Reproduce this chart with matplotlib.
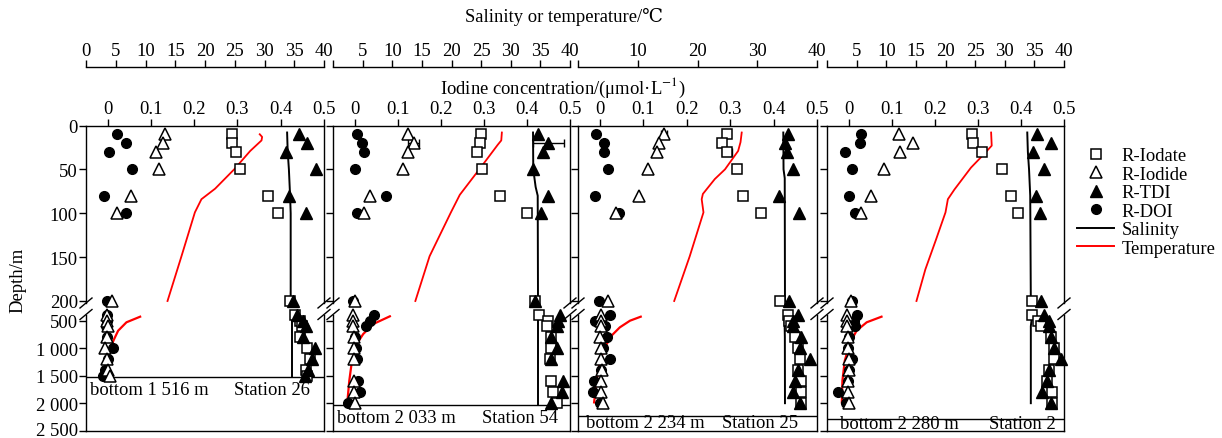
import matplotlib
matplotlib.use("Agg")
import matplotlib.pyplot as plt
import matplotlib.transforms as mtransforms
from matplotlib.lines import Line2D

plt.rcParams['font.family'] = ['Liberation Serif', 'DejaVu Serif']
plt.rcParams['mathtext.fontset'] = 'stix'
plt.rcParams['font.size'] = 13.4
plt.rcParams['axes.linewidth'] = 1.0

W, H = 1222, 439

# ---------------- data ----------------
stations = ["Station 26", "Station 54", "Station 25", "Station 2"]
bottoms = [1516, 2033, 2234, 2280]
bottom_txt = ["bottom 1 516 m", "bottom 2 033 m", "bottom 2 234 m", "bottom 2 280 m"]

depth_up = [10, 20, 30, 50, 80, 100, 200]
iodate_up = [
    [0.288, 0.288, 0.297, 0.305, 0.371, 0.394, 0.422],
    [0.293, 0.290, 0.285, 0.295, 0.338, 0.400, 0.419],
    [0.292, 0.282, 0.293, 0.315, 0.330, 0.372, 0.415],
    [0.287, 0.288, 0.310, 0.357, 0.377, 0.394, 0.425],
]
iodide_up = [
    [0.132, 0.128, 0.112, 0.118, 0.054, 0.021, 0.009],
    [0.124, 0.137, 0.123, 0.113, 0.035, 0.023, 0.000],
    [0.148, 0.137, 0.131, 0.110, 0.091, 0.037, 0.018],
    [0.117, 0.150, 0.119, 0.082, 0.053, 0.029, 0.006],
]
tdi_up = [
    [0.442, 0.460, 0.413, 0.481, 0.418, 0.459, 0.428],
    [0.425, 0.450, 0.437, 0.415, 0.449, 0.433, 0.419],
    [0.434, 0.427, 0.432, 0.444, 0.412, 0.458, 0.436],
    [0.438, 0.470, 0.427, 0.453, 0.435, 0.444, 0.447],
]
doi_up = [
    [0.021, 0.042, 0.002, 0.057, -0.008, 0.042, -0.002],
    [0.005, 0.018, 0.023, 0.002, 0.072, 0.005, -0.004],
    [-0.008, 0.010, 0.010, 0.018, -0.012, 0.045, -0.002],
    [0.028, 0.027, -0.008, 0.009, 0.000, 0.016, 0.008],
]

depth_low = [
    [400, 500, 600, 800, 1000, 1200, 1400, 1500],
    [400, 500, 600, 800, 1000, 1200, 1600, 1800, 2000],
    [400, 500, 600, 800, 1000, 1200, 1400, 1600, 1800, 2000],
    [400, 500, 600, 800, 1000, 1200, 1400, 1600, 1800, 2000],
]
iodate_low = [
    [0.433, 0.445, 0.449, 0.445, 0.460, 0.468, 0.458, 0.460],
    [0.429, 0.450, 0.446, 0.457, 0.457, 0.453, 0.457, 0.461, 0.469],
    [0.434, 0.436, 0.440, 0.449, 0.457, 0.461, 0.457, 0.464, 0.464, 0.464],
    [0.426, 0.440, 0.446, 0.469, 0.477, 0.477, 0.465, 0.461, 0.473, 0.473],
]
iodide_low = [
    [-0.001, -0.002, 0.000, -0.002, -0.006, -0.002, 0.000, 0.006],
    [-0.003, -0.003, -0.003, -0.002, -0.002, -0.002, -0.001, -0.002, 0.000],
    [0.002, 0.004, 0.004, 0.001, 0.004, 0.004, 0.006, 0.004, 0.004, 0.008],
    [-0.004, -0.003, -0.004, -0.001, -0.002, 0.000, 0.000, -0.002, -0.002, 0.002],
]
tdi_low = [
    [0.437, 0.452, 0.458, 0.451, 0.479, 0.472, 0.463, 0.456],
    [0.477, 0.473, 0.470, 0.455, 0.470, 0.457, 0.483, 0.481, 0.457],
    [0.457, 0.445, 0.445, 0.464, 0.461, 0.484, 0.457, 0.449, 0.445, 0.461],
    [0.454, 0.465, 0.465, 0.469, 0.477, 0.492, 0.465, 0.461, 0.450, 0.469],
]
doi_low = [
    [-0.002, -0.002, -0.003, -0.002, 0.013, 0.001, -0.005, -0.010],
    [0.044, 0.035, 0.026, 0.001, 0.004, 0.005, 0.008, 0.012, -0.015],
    [0.024, -0.011, 0.012, 0.017, 0.008, 0.024, 0.004, -0.013, -0.016, 0.001],
    [0.019, 0.012, 0.015, 0.000, -0.001, 0.007, 0.002, -0.002, -0.024, -0.006],
]

# error bars: (panel, species, index in depth_up, half width)
err_bars = [(1, "tdi", 1, 0.037), (1, "iodide", 1, 0.013), (2, "iodate", 2, 0.012),
            (2, "iodate", 3, 0.006), (2, "iodide", 0, 0.006), (0, "iodate", 1, 0.004)]

temp_up_depth = [
    [10, 13, 17, 29, 50, 72, 84, 99, 150, 200],
    [8, 17, 22, 49, 79, 99, 149, 200],
    [8, 19, 29, 50, 61, 78, 84, 99, 149, 200],
    [8, 23, 34, 48, 73, 84, 99, 130, 164, 200],
]
temp_up = [
    [29.2, 29.6, 29.5, 27.6, 24.9, 21.7, 19.4, 18.3, 16.0, 13.7],
    [28.5, 28.4, 27.8, 24.8, 21.4, 19.9, 16.3, 13.9],
    [27.4, 27.2, 26.8, 24.6, 22.9, 20.9, 20.7, 21.0, 18.7, 16.1],
    [27.7, 27.8, 26.3, 24.3, 21.5, 20.4, 20.0, 18.4, 16.6, 15.1],
]
temp_low_depth = [
    [427, 529, 682, 864, 1075, 1287, 1500],
    [420, 560, 742, 923, 1227, 1591, 2000],
    [427, 500, 621, 773, 985, 1227, 1591, 1985],
    [427, 529, 682, 894, 1227, 1591, 1985],
]
temp_low = [
    [9.1, 6.8, 5.4, 4.6, 3.9, 3.4, 2.9],
    [9.6, 6.8, 5.1, 4.0, 3.2, 2.75, 2.4],
    [10.5, 8.7, 7.0, 5.6, 4.5, 3.7, 3.1, 2.7],
    [9.2, 6.7, 5.0, 3.9, 3.0, 2.6, 2.5],
]
sal_up_depth = [
    [8, 30, 50, 80, 100, 200],
    [8, 50, 70, 80, 200],
    [8, 50, 60, 200],
    [8, 30, 50, 80, 200],
]
sal_up = [
    [33.8, 33.9, 34.1, 34.3, 34.4, 34.4],
    [33.76, 33.8, 34.2, 34.55, 34.6],
    [34.36, 34.4, 34.6, 34.64],
    [33.8, 33.9, 34.1, 34.3, 34.4],
]
sal_low_depth = [
    [415, 1516],
    [400, 2033],
    [400, 800, 2000],
    [420, 600, 2000],
]
sal_low = [
    [34.57, 34.57],
    [34.65, 34.65],
    [34.55, 34.62, 34.64],
    [34.6, 34.4, 34.4],
]

# ---------------- layout (pixels) ----------------
px_left = [86, 333, 578, 827]
px_right = [324, 570, 817, 1064]
up_top, up_bot = 126.5, 304
lo_top, lo_bot = 315.5, 431.7
text_depth = [1742, 2251, 2347, 2365]
txt_l = [0.017, 0.017, 0.033, 0.055]
txt_r = [0.941, 0.949, 0.92, 0.966]

fig = plt.figure(figsize=(W / 100, H / 100), dpi=100)


def add_ax(l, t, r, b):
    return fig.add_axes([l / W, 1 - b / H, (r - l) / W, (b - t) / H])


def breaks(ax, y, wpx, hpx):
    dx, dy = 6 / wpx, 5 / hpx
    for x in (0, 1):
        ax.plot([x - dx, x + dx], [y - dy, y + dy], color="k", lw=1,
                transform=ax.transAxes, clip_on=False)


def draw_points(ax, d, doi, iodide, iodate, tdi):
    ax.plot(doi, d, "o", color="k", ms=7, ls="none", clip_on=False, zorder=3)
    ax.plot(iodide, d, "^", mfc="white", mec="k", mew=1.1, ms=8, ls="none", clip_on=False, zorder=4)
    ax.plot(iodate, d, "s", mfc="white", mec="k", mew=1.1, ms=6.5, ls="none", clip_on=False, zorder=4)
    ax.plot(tdi, d, "^", color="k", ms=8, ls="none", clip_on=False, zorder=5)


tick_kw = dict(direction="out", length=4.8, width=1.0, pad=1)

for i in range(4):
    l, r = px_left[i], px_right[i]

    # ----- upper 0-200 m -----
    ax = add_ax(l, up_top, r, up_bot)
    tw = ax.twiny()
    ax.set_zorder(tw.get_zorder() + 1)
    ax.patch.set_visible(False)
    ax.set_xlim(-0.05, 0.5)
    tw.set_xlim(0, 40)
    ax.set_ylim((up_bot - up_top) / 0.8775, 0)

    ax.xaxis.tick_top()
    ax.set_xticks([0, 0.1, 0.2, 0.3, 0.4, 0.5])
    ax.set_xticklabels(["0", "0.1", "0.2", "0.3", "0.4", "0.5"])
    ax.tick_params(axis="x", top=True, bottom=False, labeltop=True, labelbottom=False, **tick_kw)
    ax.set_yticks([0, 50, 100, 150, 200])
    ax.tick_params(axis="y", left=True, right=False, labelleft=(i == 0), **tick_kw)
    ax.spines["bottom"].set_visible(False)

    for s in ("left", "right", "bottom"):
        tw.spines[s].set_visible(False)
    tw.spines["top"].set_position(("outward", 42))
    if i == 2:
        st = [0, 10, 20, 30, 40]
    else:
        st = [0, 5, 10, 15, 20, 25, 30, 35, 40]
    tw.set_xticks(st)
    tw.set_xticklabels([("" if (v == 0 and i > 0) else str(v)) for v in st])
    tw.tick_params(axis="x", top=True, bottom=False, labeltop=True, labelbottom=False, **tick_kw)

    tw.plot(sal_up[i], sal_up_depth[i], color="k", lw=1.4)
    tw.plot(temp_up[i], temp_up_depth[i], color="#ff0000", lw=1.3)

    spec = {"doi": doi_up[i], "iodide": iodide_up[i], "iodate": iodate_up[i], "tdi": tdi_up[i]}
    for p, sp, k, e in err_bars:
        if p == i:
            ax.errorbar(spec[sp][k], depth_up[k], xerr=e, fmt="none", ecolor="k",
                        elinewidth=1, capsize=3, zorder=2)
    draw_points(ax, depth_up, doi_up[i], iodide_up[i], iodate_up[i], tdi_up[i])
    breaks(ax, 0, r - l, up_bot - up_top)

    # ----- lower part -----
    axl = add_ax(l, lo_top, r, lo_bot)
    twl = axl.twiny()
    axl.set_zorder(twl.get_zorder() + 1)
    axl.patch.set_visible(False)
    axl.set_xlim(-0.05, 0.5)
    twl.set_xlim(0, 40)
    axl.set_ylim(2500, 500 - (321.7 - lo_top) / 0.055)
    twl.axis("off")

    axl.set_xticks([])
    axl.spines["top"].set_visible(False)
    axl.set_yticks([500, 1000, 1500, 2000, 2500])
    axl.set_yticklabels(["500", "1 000", "1 500", "2 000", "2 500"])
    axl.tick_params(axis="y", left=True, right=False, labelleft=(i == 0), **tick_kw)
    if i == 0:
        last = axl.get_yticklabels()[-1]
        last.set_transform(last.get_transform() +
                           mtransforms.ScaledTranslation(0, 2.5 / 100, fig.dpi_scale_trans))

    twl.plot(sal_low[i], sal_low_depth[i], color="k", lw=1.4)
    twl.plot(temp_low[i], temp_low_depth[i], color="#ff0000", lw=1.6)
    draw_points(axl, depth_low[i], doi_low[i], iodide_low[i], iodate_low[i], tdi_low[i])

    axl.axhline(bottoms[i], color="k", lw=1.0)
    trans = mtransforms.blended_transform_factory(axl.transAxes, axl.transData)
    axl.text(txt_l[i], text_depth[i], bottom_txt[i], transform=trans, ha="left", va="center")
    axl.text(txt_r[i], text_depth[i], stations[i], transform=trans, ha="right", va="center")
    breaks(axl, 1, r - l, lo_bot - lo_top)

fig.text(564 / W, 1 - 17 / H, "Salinity or temperature/\u2103", ha="center", va="center")
fig.text(563 / W, 1 - 88 / H, r"Iodine concentration/(μmol·L$^{-1}$)", ha="center", va="center")
fig.text(18 / W, 1 - 280 / H, "Depth/m", rotation=90, ha="center", va="center")

handles = [
    Line2D([], [], marker="s", ls="none", mfc="white", mec="k", mew=1.1, ms=6.5),
    Line2D([], [], marker="^", ls="none", mfc="white", mec="k", mew=1.1, ms=8),
    Line2D([], [], marker="^", ls="none", color="k", ms=8),
    Line2D([], [], marker="o", ls="none", color="k", ms=7),
    Line2D([], [], color="k", lw=1.4),
    Line2D([], [], color="#ff0000", lw=1.4),
]
labels = ["R-Iodate", "R-Iodide", "R-TDI", "R-DOI", "Salinity", "Temperature"]
fig.legend(handles, labels, loc="upper left", bbox_to_anchor=(1077 / W, 1 - 148 / H),
           frameon=False, borderpad=0, borderaxespad=0, handlelength=2.0,
           handletextpad=0.4, labelspacing=0.08)

fig.savefig("out.png", dpi=100)
